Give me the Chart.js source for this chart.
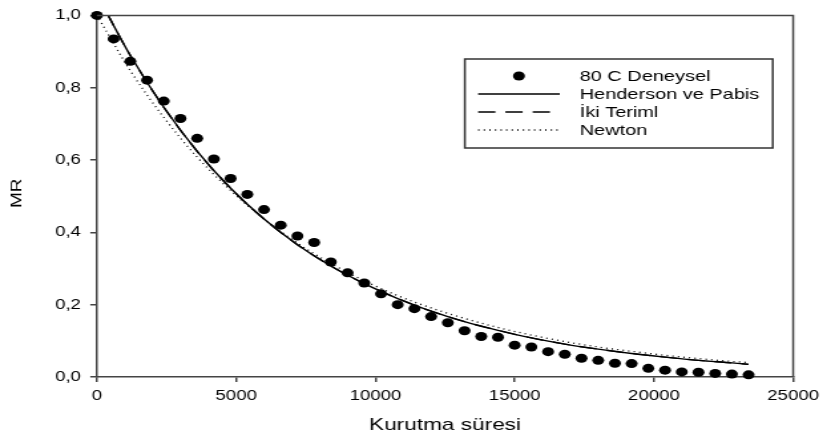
<!DOCTYPE html>
<html>
<head>
<meta charset="utf-8">
<script src="https://cdn.jsdelivr.net/npm/chart.js@4/dist/chart.umd.min.js"></script>
<style>
  html, body { margin: 0; padding: 0; background: #fff; overflow: hidden; }
  #wrap { position: absolute; left: 0; top: 0; width: 622px; height: 441px;
          transform: scaleX(1.3296); transform-origin: 0 0; }
</style>
</head>
<body>
<div id="wrap"><canvas id="c"></canvas></div>
<script>
// ---- data ----
const expTimes = [0,600,1200,1800,2400,3000,3600,4200,4800,5400,6000,6600,7200,7800,8400,9000,9600,10200,10800,11400,
                  12000,12600,13200,13800,14400,15000,15600,16200,16800,17400,18000,18600,19200,19800,20400,21000,21600,22200,22800,23400];
const expMR = [1.000,0.935,0.873,0.821,0.763,0.715,0.660,0.603,0.549,0.505,0.463,0.420,0.390,0.372,0.318,0.288,0.260,0.230,0.200,0.189,
               0.167,0.150,0.128,0.112,0.110,0.088,0.083,0.070,0.063,0.052,0.046,0.038,0.037,0.024,0.019,0.014,0.013,0.010,0.008,0.006];
const modelTimes = [0,1200,2400,3600,4800,6000,7200,8400,9600,10800,12000,13200,14400,15600,16800,18000,19200,20400,21600,22800,23400];
const hendersonMR = [1.058,0.889,0.746,0.624,0.522,0.437,0.366,0.307,0.258,0.217,0.182,0.153,0.129,0.108,0.091,0.077,0.065,0.055,0.046,0.039,0.035];
const ikiTerimMR  = [1.058,0.889,0.746,0.624,0.522,0.437,0.366,0.307,0.258,0.217,0.182,0.153,0.129,0.108,0.091,0.077,0.065,0.055,0.046,0.039,0.035];
const newtonMR    = [1.000,0.847,0.718,0.608,0.516,0.437,0.370,0.314,0.266,0.225,0.191,0.162,0.137,0.116,0.098,0.083,0.071,0.060,0.051,0.043,0.040];
const xTicks = [0,5000,10000,15000,20000,25000];
const yTicks = [0,0.2,0.4,0.6,0.8,1.0];
const legendLabels = ['80 C Deneysel','Henderson ve Pabis','İki Teriml','Newton'];
const xTitle = 'Kurutma süresi';
const yTitle = 'MR';

const pts = (xs, ys) => xs.map((x, i) => ({x: x, y: ys[i]}));
const FONT = '"Liberation Sans", Arial, sans-serif';

const framePlugin = {
  id: 'frame',
  afterDraw(chart) {
    const ctx = chart.ctx, a = chart.chartArea;
    ctx.save();
    ctx.strokeStyle = '#444';
    ctx.lineWidth = 1.5;
    ctx.beginPath();
    ctx.moveTo(a.left, a.top);
    ctx.lineTo(a.right, a.top);
    ctx.lineTo(a.right, a.bottom);
    ctx.stroke();
    ctx.restore();
  }
};

const yTitlePlugin = {
  id: 'ytitle',
  afterDraw(chart) {
    const ctx = chart.ctx, a = chart.chartArea;
    ctx.save();
    ctx.translate(13.3, (a.top + a.bottom) / 2 - 3);
    ctx.rotate(-Math.PI / 2);
    ctx.scale(1, 0.56);
    ctx.fillStyle = '#000';
    ctx.font = '19px ' + FONT;
    ctx.textAlign = 'center';
    ctx.textBaseline = 'middle';
    ctx.fillText(yTitle, 0, 0);
    ctx.restore();
  }
};

const legendPlugin = {
  id: 'boxLegend',
  afterDraw(chart) {
    const ctx = chart.ctx;
    const bx = 349.6, by = 59, bw = 231.6, bh = 89;
    const rows = [76, 94, 112, 130];
    const l0 = 359.6, l1 = 421, tx = 436;
    ctx.save();
    ctx.strokeStyle = '#333';
    ctx.lineWidth = 1.5;
    ctx.strokeRect(bx, by, bw, bh);
    // dot
    ctx.fillStyle = '#000';
    ctx.beginPath();
    ctx.arc((l0 + l1) / 2, rows[0], 4.5, 0, Math.PI * 2);
    ctx.fill();
    ctx.strokeStyle = '#000';
    ctx.lineWidth = 1.3;
    const dashes = [[], [13, 7.5], [1, 3.2]];
    for (let i = 0; i < 3; i++) {
      ctx.setLineDash(dashes[i]);
      ctx.beginPath();
      ctx.moveTo(l0, rows[i + 1]);
      ctx.lineTo(l1, rows[i + 1]);
      ctx.stroke();
    }
    ctx.setLineDash([]);
    ctx.font = '15px ' + FONT;
    ctx.textAlign = 'left';
    ctx.textBaseline = 'middle';
    legendLabels.forEach((t, i) => ctx.fillText(t, tx, rows[i] + 1));
    ctx.restore();
  }
};

new Chart(document.getElementById('c'), {
  type: 'line',
  data: {
    datasets: [
      { label: legendLabels[0], type: 'scatter', data: pts(expTimes, expMR),
        pointRadius: 4.5, pointBackgroundColor: '#000', pointBorderColor: '#000', pointBorderWidth: 0,
        showLine: false, clip: false },
      { label: legendLabels[1], data: pts(modelTimes, hendersonMR), borderColor: '#000', borderWidth: 1.4,
        pointRadius: 0, cubicInterpolationMode: 'monotone', fill: false },
      { label: legendLabels[2], data: pts(modelTimes, ikiTerimMR), borderColor: '#000', borderWidth: 1.4,
        borderDash: [13, 7.5], pointRadius: 0, cubicInterpolationMode: 'monotone', fill: false },
      { label: legendLabels[3], data: pts(modelTimes, newtonMR), borderColor: '#000', borderWidth: 1.3,
        borderDash: [1, 3.2], pointRadius: 0, cubicInterpolationMode: 'monotone', fill: false }
    ]
  },
  options: {
    responsive: true,
    maintainAspectRatio: false,
    animation: false,
    events: [],
    layout: { padding: { left: 0, top: 15, right: 22, bottom: 0 } },
    plugins: { legend: { display: false }, tooltip: { enabled: false } },
    scales: {
      x: {
        type: 'linear', min: 0, max: 25000,
        afterBuildTicks: s => { s.ticks = xTicks.map(v => ({value: v})); },
        afterFit: s => { s.height = 64; },
        ticks: { color: '#000', font: { family: FONT, size: 14 }, padding: 6,
                 callback: v => String(v), maxRotation: 0 },
        grid: { drawOnChartArea: false, drawTicks: true, tickLength: 5, color: '#444', lineWidth: 1.5 },
        border: { display: true, color: '#444', width: 1.5 },
        title: { display: true, text: xTitle, color: '#000', font: { family: FONT, size: 17 },
                 padding: { top: 0, bottom: 5 } }
      },
      y: {
        type: 'linear', min: 0, max: 1,
        afterBuildTicks: s => { s.ticks = yTicks.map(v => ({value: v})); },
        afterFit: s => { s.width = 72.9; },
        ticks: { color: '#000', font: { family: FONT, size: 14 }, padding: 7,
                 callback: v => Number(v).toFixed(1).replace('.', ',') },
        grid: { drawOnChartArea: false, drawTicks: true, tickLength: 5, color: '#444', lineWidth: 1.5 },
        border: { display: true, color: '#444', width: 1.5 }
      }
    }
  },
  plugins: [framePlugin, yTitlePlugin, legendPlugin]
});
</script>
</body>
</html>
